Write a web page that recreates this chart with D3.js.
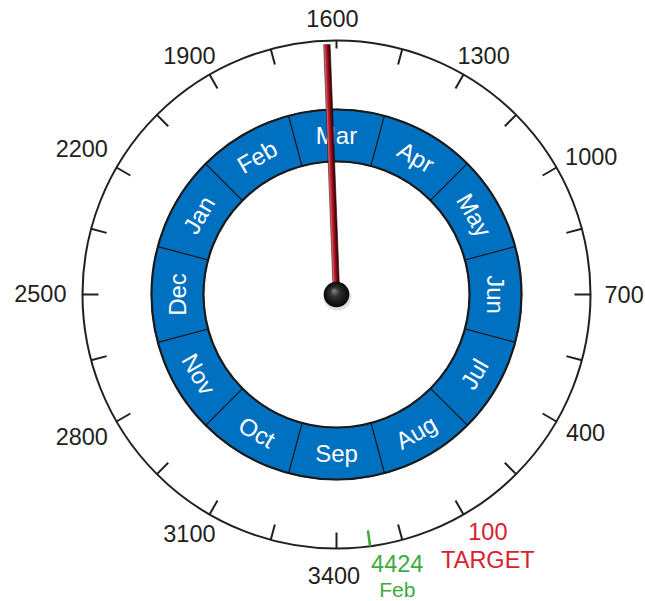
<!DOCTYPE html>
<html><head><meta charset="utf-8">
<script src="https://cdn.jsdelivr.net/npm/d3@7"></script>
<style>html,body{margin:0;padding:0;background:#fff}svg{display:block}</style>
</head><body>
<script>
// ---- data ----
const months = ["Jan","Feb","Mar","Apr","May","Jun","Jul","Aug","Sep","Oct","Nov","Dec"];
const tickLabels = [100,400,700,1000,1300,1600,1900,2200,2500,2800,3100,3400];
const minorTicks = [100,250,400,550,700,850,1000,1150,1300,1450,1600,1750,1900,2050,2200,2350,2500,2650,2800,2950,3100,3250,3400,3550];
const needleValue = 1622;
const targetValue = 100;
const targetLabel = "TARGET";
const markerPos = 3476;       // position
const markerValue = "4424";
const markerMonth = "Feb";

// ---- layout ----
const W = 645, H = 601, cx = 336.5, cy = 294.5;
const R = 254, ringOuter = 185, ringInner = 133, labelR = 268;
const font = "'Liberation Sans', Arial, sans-serif";
const fs = 23.5;
// small label nudges to follow the original placement
const nudge = {1600: [-4, 0], 3400: [-2.5, 4.5], 2200: [0, -8], 2800: [0, 4], 2500: [-2, -1]};

const svg = d3.select("body").append("svg").attr("width", W).attr("height", H);
const g = svg.append("g").attr("transform", `translate(${cx},${cy})`);

// value -> angle in degrees (clockwise from top)
const angle = d3.scaleLinear().domain([1600, 100]).range([0, 150]);
const rad = d => d * Math.PI / 180;
const pt = (a, r) => [r * Math.sin(rad(a)), -r * Math.cos(rad(a))];

// month scale (band around circle), Mar centred at top
const monthAngle = d3.scaleBand().domain(months).range([-75, 285]);
const monthCenter = m => monthAngle(m) + monthAngle.bandwidth() / 2;

// defs
const defs = svg.append("defs");
const ng = defs.append("linearGradient").attr("id", "needleG").attr("x1", 0).attr("x2", 1).attr("y1", 0).attr("y2", 0);
ng.append("stop").attr("offset", "0%").attr("stop-color", "#f08c98");
ng.append("stop").attr("offset", "30%").attr("stop-color", "#c8202f");
ng.append("stop").attr("offset", "65%").attr("stop-color", "#7a0a14");
ng.append("stop").attr("offset", "100%").attr("stop-color", "#250004");
const kg = defs.append("radialGradient").attr("id", "knobG").attr("cx", "50%").attr("cy", "50%").attr("r", "50%").attr("fx", "40%").attr("fy", "35%");
kg.append("stop").attr("offset", "0%").attr("stop-color", "#8a8a8a");
kg.append("stop").attr("offset", "35%").attr("stop-color", "#333");
kg.append("stop").attr("offset", "100%").attr("stop-color", "#050505");

// outer circle
g.append("circle").attr("r", R).attr("fill", "none").attr("stroke", "#231f20").attr("stroke-width", 2);

// ticks
g.selectAll("line.tick").data(minorTicks).join("line").attr("class", "tick")
  .each(function(v) {
    const len = v === 1600 ? 8 : 16;
    const a = angle(v), p1 = pt(a, R), p2 = pt(a, R - len);
    d3.select(this).attr("x1", p1[0]).attr("y1", p1[1]).attr("x2", p2[0]).attr("y2", p2[1]);
  })
  .attr("stroke", "#231f20").attr("stroke-width", 2);

// tick labels
g.selectAll("g.lbl").data(tickLabels).join("g").attr("class", "lbl").each(function(v) {
  const a = angle(v);
  const isT = v === targetValue;
  const lines = isT ? [String(v), targetLabel] : [String(v)];
  const color = isT ? "#d7222d" : "#231f20";
  const grp = d3.select(this);
  const texts = lines.map(s => grp.append("text").text(s).attr("font-family", font).attr("font-size", fs)
      .attr("fill", color).attr("text-anchor", "middle"));
  const w = d3.max(texts, t => t.node().getComputedTextLength());
  const cap = 0.716 * fs, lh = 28;
  const h = cap + (lines.length - 1) * lh;
  const p = pt(a, labelR);
  const n = nudge[v] || [0, 0];
  const bx = p[0] + Math.sin(rad(a)) * w / 2 - (isT ? 6 : 0) + n[0];
  const by = p[1] - Math.cos(rad(a)) * h / 2 + n[1];
  texts.forEach((t, i) => t.attr("x", bx).attr("y", by - h / 2 + cap + i * lh));
});

// month ring
const arc = d3.arc().innerRadius(ringInner).outerRadius(ringOuter);
g.selectAll("path.month").data(months).join("path").attr("class", "month")
  .attr("d", m => arc({ startAngle: rad(monthAngle(m)), endAngle: rad(monthAngle(m) + monthAngle.bandwidth()) }))
  .attr("fill", "#0070c0").attr("stroke", "#1a1a1a").attr("stroke-width", 1.1);
g.append("circle").attr("r", ringOuter).attr("fill", "none").attr("stroke", "#1a1a1a").attr("stroke-width", 2.2);
g.append("circle").attr("r", ringInner).attr("fill", "none").attr("stroke", "#1a1a1a").attr("stroke-width", 2.2);

g.selectAll("text.month").data(months).join("text").attr("class", "month")
  .attr("font-family", font).attr("font-size", 24).attr("fill", "#fff").attr("text-anchor", "middle")
  .attr("dy", "0.36em")
  .attr("transform", m => {
    let a = ((monthCenter(m) % 360) + 360) % 360;
    const p = pt(a, (ringInner + ringOuter) / 2);
    let rot = (a > 90 && a < 270) ? a - 180 : (a > 180 ? a - 360 : a);
    return `translate(${p[0]},${p[1]}) rotate(${rot})`;
  })
  .text(m => m);

// marker (green)
const ma = angle(markerPos);
const m1 = pt(ma, R), m2 = pt(ma, R - 16);
g.append("line").attr("x1", m1[0]).attr("y1", m1[1]).attr("x2", m2[0]).attr("y2", m2[1])
  .attr("stroke", "#3bab3e").attr("stroke-width", 2.5);
const mt = g.append("text").attr("x", m1[0] + 1).attr("y", m1[1] + 26).attr("font-family", font).attr("font-size", fs)
  .attr("fill", "#3bab3e").attr("text-anchor", "start").text(markerValue);
const mw = mt.node().getComputedTextLength();
g.append("text").attr("x", m1[0] + 1 + mw / 2).attr("y", m1[1] + 51).attr("font-family", font).attr("font-size", 21)
  .attr("fill", "#3bab3e").attr("text-anchor", "middle").text(markerMonth);

// needle
const na = angle(needleValue);
const ndl = g.append("g").attr("transform", `rotate(${na})`);
ndl.append("rect").attr("x", -3.2).attr("y", -250).attr("width", 6.4).attr("height", 250)
  .attr("fill", "url(#needleG)").attr("stroke", "#2a0508").attr("stroke-width", 0.6);

// knob
g.append("ellipse").attr("cx", 1).attr("cy", 3).attr("rx", 14).attr("ry", 13).attr("fill", "#000").attr("opacity", 0.12);
g.append("circle").attr("r", 12.8).attr("fill", "url(#knobG)");
</script>
</body></html>
